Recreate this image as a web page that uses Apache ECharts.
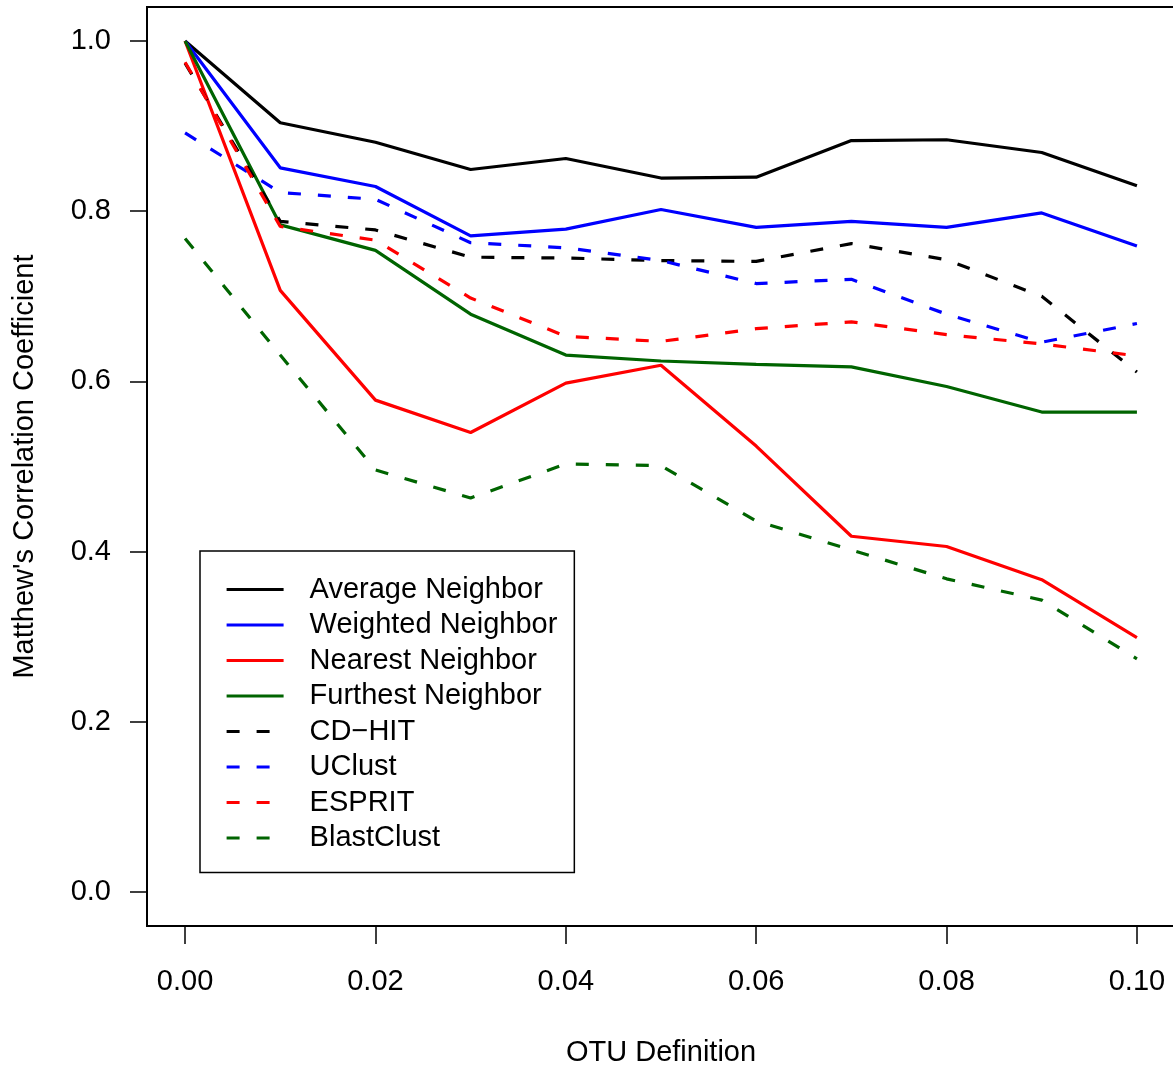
<!DOCTYPE html>
<html>
<head>
<meta charset="utf-8">
<title>MCC vs OTU definition</title>
<script src="https://cdn.jsdelivr.net/npm/echarts@6/dist/echarts.min.js"></script>
<style>
  html, body { margin: 0; padding: 0; background: #fff; }
  #chart { width: 1173px; height: 1069px; }
</style>
</head>
<body>
<div id="chart"></div>
<script>
// OTU definition (x axis)
const otuDefs = [0, 0.01, 0.02, 0.03, 0.04, 0.05, 0.06, 0.07, 0.08, 0.09, 0.10];
// tick positions
const xTicks = [0, 0.02, 0.04, 0.06, 0.08, 0.10];
const yTicks = [0, 0.2, 0.4, 0.6, 0.8, 1.0];

// Matthew's correlation coefficient
const averageNeighbor = [1.0, 0.904, 0.881, 0.849, 0.862, 0.839, 0.840, 0.883, 0.884, 0.869, 0.830];
const weightedNeighbor = [1.0, 0.851, 0.829, 0.771, 0.779, 0.802, 0.781, 0.788, 0.781, 0.798, 0.759];
const nearestNeighbor = [1.0, 0.707, 0.578, 0.540, 0.598, 0.619, 0.524, 0.418, 0.406, 0.367, 0.299];
const furthestNeighbor = [1.0, 0.784, 0.754, 0.679, 0.631, 0.624, 0.620, 0.617, 0.594, 0.564, 0.564];
const cdHit = [0.974, 0.788, 0.778, 0.746, 0.745, 0.742, 0.741, 0.762, 0.743, 0.700, 0.611];
const uClust = [0.892, 0.822, 0.814, 0.763, 0.757, 0.742, 0.715, 0.720, 0.679, 0.646, 0.668];
const esprit = [0.975, 0.782, 0.766, 0.698, 0.653, 0.647, 0.662, 0.670, 0.655, 0.644, 0.630];
const blastClust = [0.768, 0.631, 0.496, 0.463, 0.503, 0.501, 0.436, 0.402, 0.368, 0.343, 0.274];

const seriesNames = [
  "Average Neighbor", "Weighted Neighbor", "Nearest Neighbor", "Furthest Neighbor",
  "CD\u2212HIT", "UClust", "ESPRIT", "BlastClust"
];
const seriesValues = [
  averageNeighbor, weightedNeighbor, nearestNeighbor, furthestNeighbor,
  cdHit, uClust, esprit, blastClust
];
const seriesColors = ["#000000", "#0000ff", "#ff0000", "#006400", "#000000", "#0000ff", "#ff0000", "#006400"];
const seriesDashed = [false, false, false, false, true, true, true, true];

const font = "'Liberation Sans', Arial, Helvetica, sans-serif";

/**
 * build one line series from a value array
 */
function makeSeries(i) {
  return {
    name: seriesNames[i],
    type: "line",
    data: otuDefs.map((x, k) => [x, seriesValues[i][k]]),
    showSymbol: false,
    symbol: "none",
    color: seriesColors[i],
    lineStyle: {
      color: seriesColors[i],
      width: 3.2,
      type: seriesDashed[i] ? [13, 17] : "solid",
      cap: "butt"
    },
    emphasis: { disabled: true },
    z: 2 + i
  };
}

const chart = echarts.init(document.getElementById("chart"), null, { renderer: "canvas" });

const option = {
  animation: false,
  backgroundColor: "#ffffff",
  textStyle: { fontFamily: font },
  grid: {
    left: 147,
    top: 7,
    width: 1028,
    height: 919,
    show: true,
    borderColor: "#000",
    borderWidth: 2,
    backgroundColor: "transparent",
    containLabel: false,
    outerBoundsMode: "none"
  },
  legend: {
    orient: "vertical",
    left: 200,
    top: 551,
    padding: [23.5, 17, 19.5, 25],
    itemWidth: 57,
    itemHeight: 14,
    itemGap: 5.5,
    selectedMode: false,
    borderColor: "#000",
    borderWidth: 1.5,
    backgroundColor: "#fff",
    // hide the dot that line series put in the middle of the legend icon
    itemStyle: { opacity: 0 },
    lineStyle: { width: 3.2 },
    textStyle: {
      fontFamily: font,
      fontSize: 29,
      lineHeight: 30,
      color: "#000",
      padding: [0, 0, 0, 21]
    },
    data: seriesNames
  },
  xAxis: {
    type: "value",
    min: -0.004,
    max: 0.104,
    name: "OTU Definition",
    nameLocation: "middle",
    nameGap: 127,
    nameTextStyle: { fontFamily: font, fontSize: 29, color: "#000", verticalAlign: "middle" },
    splitLine: { show: false },
    axisLine: { show: false, onZero: false },
    axisTick: {
      show: true,
      length: 18,
      customValues: xTicks,
      lineStyle: { color: "#000", width: 1.5 }
    },
    axisLabel: {
      customValues: xTicks,
      margin: 41,
      fontFamily: font,
      fontSize: 29,
      color: "#000",
      formatter: (v) => v.toFixed(2)
    }
  },
  yAxis: {
    type: "value",
    min: -0.04,
    max: 1.04,
    name: "Matthew's Correlation Coefficient",
    nameLocation: "middle",
    nameGap: 122,
    nameTextStyle: { fontFamily: font, fontSize: 29, color: "#000", verticalAlign: "middle" },
    splitLine: { show: false },
    axisLine: { show: false, onZero: false },
    axisTick: {
      show: true,
      length: 17,
      customValues: yTicks,
      lineStyle: { color: "#000", width: 1.5 }
    },
    axisLabel: {
      customValues: yTicks,
      margin: 36,
      fontFamily: font,
      fontSize: 29,
      color: "#000",
      formatter: (v) => v.toFixed(1)
    }
  },
  series: seriesNames.map((_, i) => makeSeries(i))
};

chart.setOption(option);
</script>
</body>
</html>
